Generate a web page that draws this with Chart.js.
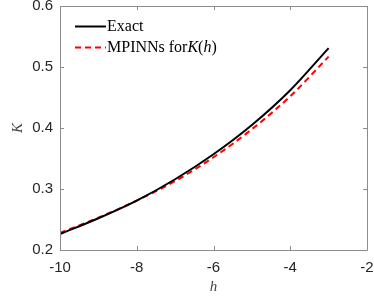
<!DOCTYPE html>
<html>
<head>
<meta charset="utf-8">
<script src="https://cdn.jsdelivr.net/npm/chart.js@4"></script>
<style>
  html, body { margin: 0; padding: 0; background: #fff; }
  #wrap { width: 374px; height: 299px; }
</style>
</head>
<body>
<div id="wrap"><canvas id="chart"></canvas></div>
<script>
// values
const hValues = [-10, -9, -8, -7, -6, -5, -4, -3];
const exactK = [0.226, 0.252, 0.281, 0.316, 0.357, 0.405, 0.462, 0.531];
const mpinnK = [0.228, 0.253, 0.281, 0.313, 0.352, 0.398, 0.452, 0.517];
const xTicks = [-10, -8, -6, -4, -2];
const yTicks = [0.2, 0.3, 0.4, 0.5, 0.6];

const axisColor = "#8c8c8c";
const textColor = "#262626";

const toPoints = (ys) => hValues.map((h, i) => ({ x: h, y: ys[i] }));

// MATLAB-like box with inward ticks on all four sides
const boxPlugin = {
  id: "box",
  afterDatasetsDraw(chart) {
    const { ctx, chartArea: a, scales } = chart;
    const len = 4;
    ctx.save();
    ctx.strokeStyle = axisColor;
    ctx.lineWidth = 1;
    ctx.beginPath();
    ctx.rect(Math.round(a.left) + 0.5, Math.round(a.top) + 0.5,
      Math.round(a.right - a.left), Math.round(a.bottom - a.top));
    xTicks.forEach(v => {
      const px = Math.round(scales.x.getPixelForValue(v)) + 0.5;
      ctx.moveTo(px, a.bottom); ctx.lineTo(px, a.bottom - len);
      ctx.moveTo(px, a.top); ctx.lineTo(px, a.top + len);
    });
    yTicks.forEach(v => {
      const py = Math.round(scales.y.getPixelForValue(v)) + 0.5;
      ctx.moveTo(a.left, py); ctx.lineTo(a.left + len, py);
      ctx.moveTo(a.right, py); ctx.lineTo(a.right - len, py);
    });
    ctx.stroke();
    ctx.restore();
  }
};

// legend with LaTeX-ish text, no box
const legendPlugin = {
  id: "texLegend",
  afterDraw(chart) {
    const { ctx } = chart;
    const x0 = 75, x1 = 106, tx = 107;
    const rows = [
      { y: 26.5, color: "#000000", dash: [], parts: [["Exact", false]] },
      { y: 47.5, color: "#ff0000", dash: [6, 4],
        parts: [["MPINNs for", false], ["K", true], ["(", false], ["h", true], [")", false]] }
    ];
    ctx.save();
    rows.forEach(r => {
      ctx.strokeStyle = r.color;
      ctx.lineWidth = 2;
      ctx.setLineDash(r.dash);
      ctx.beginPath();
      ctx.moveTo(x0, r.y); ctx.lineTo(x1, r.y);
      ctx.stroke();
      ctx.setLineDash([]);
      let x = tx;
      ctx.fillStyle = "#000";
      ctx.textBaseline = "alphabetic";
      r.parts.forEach(([t, it]) => {
        ctx.font = (it ? "italic " : "") + "16px 'Liberation Serif', serif";
        ctx.fillText(t, x, r.y + 4.5);
        x += ctx.measureText(t).width;
      });
    });
    ctx.restore();
  }
};

new Chart(document.getElementById("chart"), {
  type: "line",
  data: {
    datasets: [
      {
        label: "Exact",
        data: toPoints(exactK),
        borderColor: "#000000",
        borderWidth: 2,
        pointRadius: 0,
        cubicInterpolationMode: "monotone",
        fill: false
      },
      {
        label: "MPINNs for K(h)",
        data: toPoints(mpinnK),
        borderColor: "#ff0000",
        borderWidth: 2,
        borderDash: [6, 4],
        pointRadius: 0,
        cubicInterpolationMode: "monotone",
        fill: false
      }
    ]
  },
  options: {
    responsive: true,
    maintainAspectRatio: false,
    animation: false,
    layout: { padding: { top: 6, right: 7, left: 0, bottom: 0 } },
    plugins: { legend: { display: false }, tooltip: { enabled: false } },
    scales: {
      x: {
        type: "linear",
        min: -10,
        max: -2,
        afterBuildTicks(scale) { scale.ticks = xTicks.map(v => ({ value: v })); },
        afterFit(scale) {
          scale.height = 49;
          scale.paddingLeft = 0;
          scale.paddingRight = 0;
        },
        grid: { display: false, drawTicks: false },
        border: { display: false },
        ticks: {
          color: textColor,
          font: { family: "'Liberation Sans', Arial, sans-serif", size: 15 },
          padding: 9,
          maxRotation: 0
        },
        title: {
          display: true,
          text: "h",
          color: "#444",
          font: { family: "'Liberation Serif', serif", size: 15, style: "italic" },
          padding: { top: 0, bottom: 3 }
        }
      },
      y: {
        min: 0.2,
        max: 0.6,
        afterBuildTicks(scale) { scale.ticks = yTicks.map(v => ({ value: v })); },
        afterFit(scale) {
          scale.width = 60;
          scale.paddingTop = 0;
          scale.paddingBottom = 0;
        },
        grid: { display: false, drawTicks: false },
        border: { display: false },
        ticks: {
          color: textColor,
          font: { family: "'Liberation Sans', Arial, sans-serif", size: 15 },
          padding: 7,
          callback: (v) => v.toFixed(1)
        },
        title: {
          display: true,
          text: "K",
          color: "#444",
          font: { family: "'Liberation Serif', serif", size: 15, style: "italic" },
          padding: { top: 9, bottom: 0 }
        }
      }
    }
  },
  plugins: [boxPlugin, legendPlugin]
});
</script>
</body>
</html>
